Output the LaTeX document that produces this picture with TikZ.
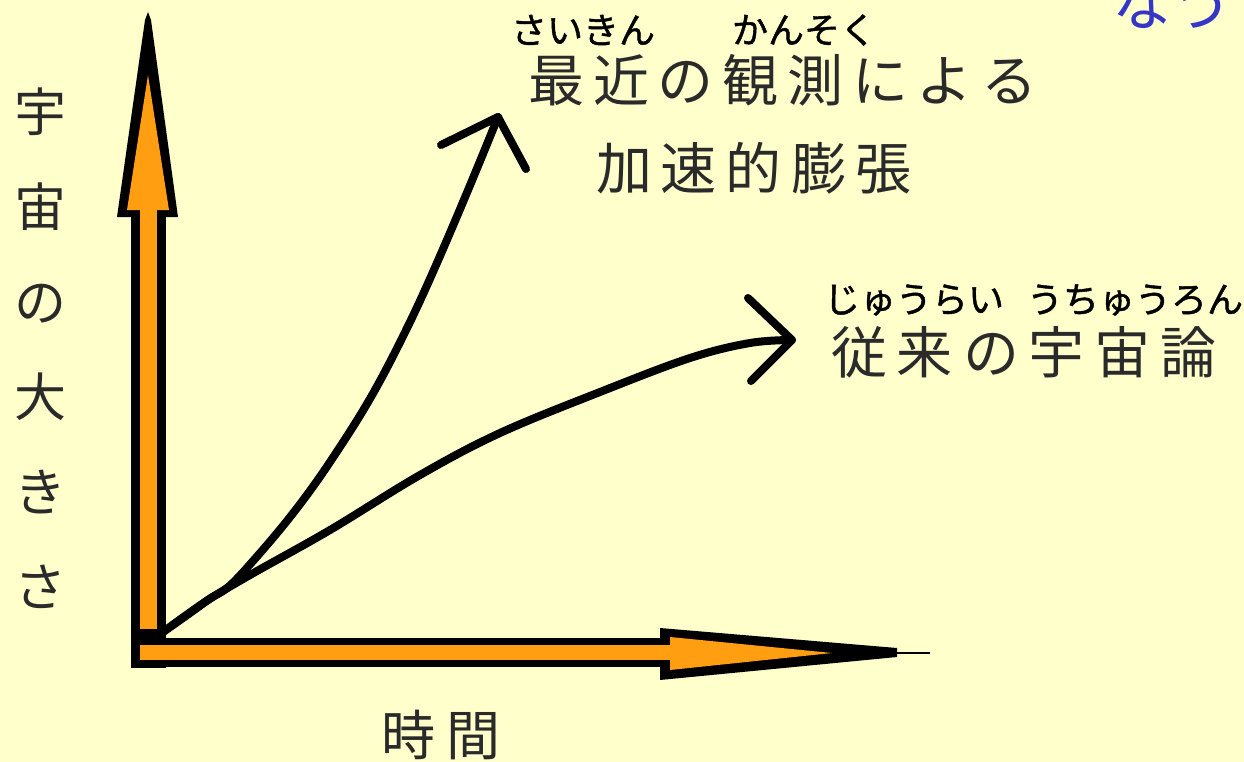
\documentclass[tikz,border=0pt]{standalone}
\usepackage{fontspec}
\newfontfamily\jp{Noto Sans CJK JP}
\newfontfamily\jpruby[FakeBold=1.2]{Noto Sans CJK JP}
\definecolor{bg}{HTML}{FFFFCC}
\definecolor{axisorange}{HTML}{FF9E10}
\definecolor{labelgray}{HTML}{2A2A2A}
\definecolor{nowblue}{HTML}{3535C8}
\makeatletter
\newcommand\spacedtext[2]{\def\spt@w{#1}\@tfor\spt@c:=#2\do{\makebox[\spt@w]{\spt@c}}}
\makeatother
\begin{document}
\begin{tikzpicture}[x=1pt,y=-1pt,
  biglabel/.style={font=\jp\fontsize{56}{60}\selectfont, text=labelgray, inner sep=0pt},
  ruby/.style={font=\jpruby\fontsize{36}{40}\selectfont, text=black, inner sep=0pt},
  curve/.style={line width=8pt, line cap=round, line join=round, draw=black},
  outline/.style={fill=black},
  core/.style={fill=axisorange}]
\fill[bg] (0,0) rectangle (1244,762);
\useasboundingbox (0,0) rectangle (1244,762);

% axes (black outlines)
\fill[outline] (117,217) -- (145,20) -- (148,12) -- (151,20) -- (178,217) -- cycle;
\fill[outline] (131,210) rectangle (166,668);
\fill[outline] (131,638) rectangle (665,667);
\fill[outline] (660,628) -- (660,680) -- (897,657) -- (897,648) -- cycle;
\draw[line width=2pt] (890,652.5) -- (930,652.5);
% axes (orange cores)
\fill[core] (127,210) -- (148,75) -- (169,210) -- cycle;
\fill[core] (140,205) rectangle (157,629);
\fill[core] (140,645) rectangle (672,660);
\fill[core] (670,637) -- (832,653) -- (670,670) -- cycle;

% labels
\node[biglabel] (recent) at (783,80) {\spacedtext{64.7pt}{最近の観測による}};
\node[biglabel] (accel) at (754,168) {\spacedtext{65pt}{加速的膨張}};
\node[biglabel] (standard) at (1024,352) {\spacedtext{66pt}{従来の宇宙論}};
\node[ruby] (r1) at (583,30) {さいきん};
\node[ruby] (r2) at (804,30) {かんそく};
\node[ruby] (r3) at (914,300) {じゅうらい};
\node[ruby] (r4) at (1135,300) {うちゅうろん};
\node[biglabel, font=\jp\fontsize{52}{95}\selectfont, align=center] (size) at (40,348) {宇\\宙\\の\\大\\き\\さ};
\node[biglabel, font=\jp\fontsize{54}{60}\selectfont] (time) at (441,735) {\spacedtext{66pt}{時間}};
\node[inner sep=0pt, font=\jp\fontsize{60}{64}\selectfont, text=nowblue] (now) at (1172,3) {なう};

% curves
\coordinate (O) at (163,632);
\coordinate (accTip) at (498,117);
\coordinate (accL) at (441,145);
\coordinate (accR) at (526,169);
\coordinate (stdTip) at (792,340);
\coordinate (stdU) at (748,298);
\coordinate (stdD) at (751,381);
\draw[curve] plot[smooth, tension=0.7] coordinates {(O) (205,602) (245,570) (330,462) (410,322) (accTip)};
\draw[curve] plot[smooth, tension=0.6] coordinates {(O) (205,602) (250,575) (330,530) (420,475) (500,433) (600,392) (690,358) (750,343) (stdTip)};
\draw[curve] (accL) -- (accTip) -- (accR);
\draw[curve] (stdU) -- (stdTip) -- (stdD);
\end{tikzpicture}
\end{document}
